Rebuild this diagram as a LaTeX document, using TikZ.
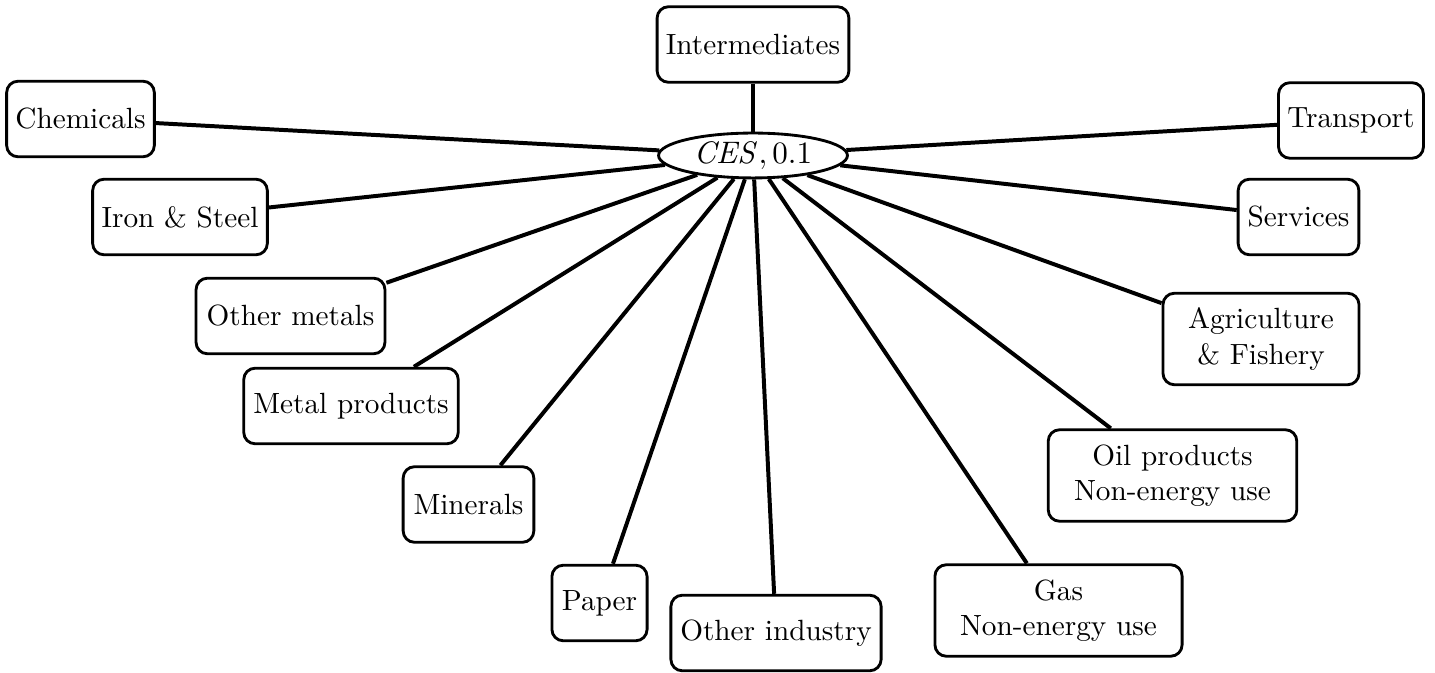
\documentclass[tikz,border=0pt]{standalone}
\usetikzlibrary{shapes.geometric}
\begin{document}
\begin{tikzpicture}[x=0.352pt,y=-0.352pt,
  box/.style={draw,line width=1pt,rounded corners=4pt,align=center,inner sep=0pt,font=\fontsize{10.3}{12.4}\selectfont},
  one/.style={box,minimum height=26.6pt},
  two/.style={box,minimum height=32.2pt},
  hub/.style={draw,ellipse,line width=1pt,minimum width=66.5pt,minimum height=15.8pt,inner sep=0pt,font=\fontsize{11}{13}\selectfont},
  link/.style={line width=1.4pt}]
\useasboundingbox (0,0) rectangle (1435,673);
\node[hub] (ces) at (753,155.5) {$\mathit{CES}, 0.1$};
\node[one,minimum width=67.5pt] (inter) at (753,44.5) {Intermediates};
\node[one,minimum width=52pt] (chem) at (80.5,119) {Chemicals};
\node[one,minimum width=51pt] (trans) at (1351,120.5) {Transport};
\node[one,minimum width=61.5pt] (iron) at (180,217) {Iron \& Steel};
\node[one,minimum width=42.5pt] (serv) at (1298.5,217) {Services};
\node[one,minimum width=66.5pt] (ometal) at (290.5,316) {Other metals};
\node[two,minimum width=69pt] (agri) at (1261,339) {Agriculture\\\& Fishery};
\node[one,minimum width=75.5pt] (mprod) at (351,406) {Metal products};
\node[one,minimum width=46pt] (miner) at (468.5,504.5) {Minerals};
\node[two,minimum width=87.5pt] (oil) at (1172.5,475.5) {Oil products\\Non-energy use};
\node[one,minimum width=33.5pt] (paper) at (599.5,603) {Paper};
\node[one,minimum width=74pt] (oind) at (776,633) {Other industry};
\node[two,minimum width=87pt] (gas) at (1058.5,610.5) {Gas\\Non-energy use};
\foreach \n in {inter,chem,trans,iron,serv,ometal,agri,mprod,miner,oil,paper,oind,gas}
  \draw[link] (ces) -- (\n);
\end{tikzpicture}
\end{document}
